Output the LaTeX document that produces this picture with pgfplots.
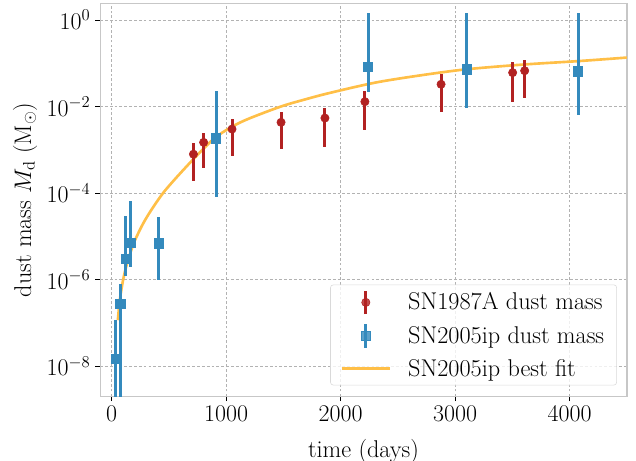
\documentclass[border=0pt]{standalone}
\usepackage{pgfplots}
\pgfplotsset{compat=1.18}
\usepackage{pgfplotstable}
\usetikzlibrary{calc}
\definecolor{cred}{HTML}{B22222}
\definecolor{cblue}{HTML}{348ABD}
\definecolor{corange}{HTML}{FFBF47}
\pgfplotstableread{
x y ep em
715 7.9e-4 6.2e-4 6.0e-4
804 1.48e-3 1.02e-3 1.095e-3
1052 3.0e-3 2.1e-3 2.28e-3
1480 4.3e-3 3.1e-3 3.25e-3
1863 5.4e-3 3.9e-3 4.25e-3
2212 1.29e-2 9.9e-3 1.0e-2
2877 3.26e-2 2.39e-2 2.5e-2
3502 6.05e-2 4.85e-2 4.76e-2
3607 6.7e-2 5.0e-2 5.1e-2
}\redtab
\pgfplotstableread{
x y ep em
35 1.5e-8 1.0e-7 1.49e-8
76 2.8e-7 5.3e-7 2.799e-7
122 2.97e-6 2.69e-5 1.74e-6
166 7.2e-6 5.88e-5 5.3e-6
413 6.9e-6 2.11e-5 5.92e-6
913 1.84e-3 2.106e-2 1.761e-3
2240 8.2e-2 1.388 6.07e-2
3098 7.24e-2 1.398 6.33e-2
4074 6.5e-2 1.405 5.87e-2
}\bluetab
\pgfplotstableread{
x y
55 1.15e-7
65 2.24e-7
76 3.98e-7
100 9.55e-7
128 2.0e-6
160 3.8e-6
200 7.59e-6
273 1.91e-5
350 4.17e-5
450 1.0e-4
550 2.04e-4
650 3.98e-4
750 7.59e-4
900 1.86e-3
1050 3.39e-3
1200 5.25e-3
1480 1.0e-2
1700 1.48e-2
1900 2.04e-2
2300 3.55e-2
2700 5.25e-2
3100 7.24e-2
3600 9.33e-2
4080 0.112
4500 0.135
}\fittab
\begin{document}
\begin{tikzpicture}[font=\fontsize{17.5}{21}\selectfont]
\begin{axis}[
 scale only axis, width=379bp, height=282.6bp,
 xmin=-100, xmax=4500, ymode=log, ymin=2e-9, ymax=2.4,
 xtick={0,1000,2000,3000,4000},
 ytick={1e-8,1e-6,1e-4,1e-2,1},
 yminorticks=false,
 scaled x ticks=false,
 xticklabel style={/pgf/number format/1000 sep={}},
 tick align=outside, tick pos=left, major tick length=3.5pt,
 tick style={black, line width=0.6pt},
 axis line style={black!22, line width=0.8pt},
 grid=major, major grid style={dash pattern=on 2pt off 1.5pt, black!30, line width=0.5pt},
 xlabel={time (days)}, ylabel={dust mass $M_{\mathrm{d}}$ ($\mathrm{M}_\odot$)},
 xlabel style={yshift=-6pt},
 ylabel style={yshift=0pt},
 legend style={at={(0.981,0.028)}, anchor=south east, draw=black!15, rounded corners=2pt, fill=white, fill opacity=0.8, text opacity=1, row sep=5pt, column sep=10bp, inner xsep=7pt, inner ysep=3pt, nodes={inner sep=2pt}},
 legend cell align=left,
 ebar/.style={legend image code/.code={\draw[line width=2.2bp] (17.5bp,-8.5bp)--(17.5bp,8.5bp); \draw plot coordinates {(17.5bp,0bp)};}},
 error bars/error bar style={line width=2.2bp, solid},
 error bars/error mark=none,
]
\addplot[corange, line width=1.9bp, smooth, forget plot] table[x=x,y=y] {\fittab};
\addplot[cred, only marks, mark=*, mark size=3pt, ebar,
  error bars/.cd, y dir=both, y explicit]
  table[x=x, y=y, y error plus=ep, y error minus=em] {\redtab};
\addlegendentry{SN1987A dust mass}
\addplot[cblue, only marks, mark=square*, mark size=3.3pt, ebar,
  error bars/.cd, y dir=both, y explicit]
  table[x=x, y=y, y error plus=ep, y error minus=em] {\bluetab};
\addlegendentry{SN2005ip dust mass}
\addlegendimage{corange, line width=1.9bp, legend image code/.code={\draw (0bp,0bp)--(35bp,0bp);}}
\addlegendentry{SN2005ip best fit}
\end{axis}
\pgfresetboundingbox
\path ($(current axis.south west)+(-72bp,-46bp)$) rectangle ($(current axis.north east)+(6.5bp,2.5bp)$);
\end{tikzpicture}
\end{document}
